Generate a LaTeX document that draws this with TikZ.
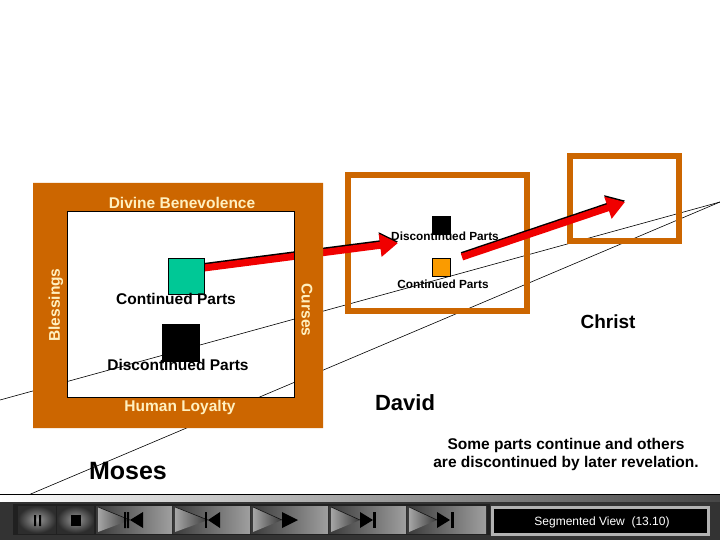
\documentclass[tikz,border=0pt]{standalone}
\usepackage{fontspec}
\setmainfont{Liberation Sans}
\usetikzlibrary{arrows.meta}
\definecolor{frameorange}{RGB}{204,102,0}
\definecolor{labelcream}{RGB}{255,240,192}
\definecolor{partgreen}{RGB}{0,200,150}
\definecolor{partorange}{RGB}{250,155,0}
\definecolor{arrowred}{RGB}{240,0,0}
\newcommand{\fsz}[1]{\fontsize{#1bp}{1.2\dimexpr#1bp\relax}\selectfont}

\begin{document}
\begin{tikzpicture}[x=1bp,y=-1bp,
  frametxt/.style={inner sep=0pt,text=labelcream,font=\fsz{15.5}\bfseries},
  parttxt/.style={inner sep=0pt,font=\fsz{15.5}\bfseries},
  smalltxt/.style={inner sep=0pt,font=\fsz{11.8}\bfseries},
  nametxt/.style={inner sep=0pt,font=\fsz{#1}\bfseries},
  partbox/.style={draw=black,line width=0.6bp,minimum size=#1,inner sep=0pt},
  eraframe/.style={draw=frameorange,line width=6bp},
  timeline/.style={black,line width=0.6bp},
  revarrow/.style={line width=7bp,-{Triangle[length=18bp,width=22bp]}}]
  \useasboundingbox (0,0) rectangle (720,540);
  \fill[white] (0,0) rectangle (720,540);

  % perspective lines
  \coordinate (l1a) at (0,400);
  \coordinate (l2a) at (26,496);
  \coordinate (vp) at (720,202);
  \draw[timeline] (l1a) -- (vp);
  \draw[timeline] (l2a) -- (vp);

  % David and Christ
  \draw[eraframe] (348,175) rectangle (527,311);
  \draw[eraframe] (570,156) rectangle (679,241);
  \node[partbox=18bp,fill=black] (dblk) at (441.5,225) {};
  \node[partbox=18bp,fill=partorange] (dorg) at (441.5,267.5) {};
  \node[smalltxt] (ddis) at (445,236) {Discontinued Parts};
  \node[smalltxt] (dcon) at (443,284) {Continued Parts};

  % arrows
  \node[partbox=36bp,fill=partgreen] (mgrn) at (186,276) {};
  \coordinate (st1) at (204,268);
  \coordinate (tip1) at (398,243);
  \coordinate (st2) at (462,257);
  \coordinate (tip2) at (625,202);
  \draw[revarrow,black] ([yshift=1.5bp]st1) -- ([yshift=1.5bp]tip1);
  \draw[revarrow,arrowred] (st1) -- (tip1);
  \draw[revarrow,black] ([yshift=1.5bp]st2) -- ([yshift=1.5bp]tip2);
  \draw[revarrow,arrowred] (st2) -- (tip2);

  % Moses
  \fill[frameorange,even odd rule] (33,183) rectangle (323,428) (67,211) rectangle (294,397);
  \draw[black,line width=0.6bp] (67,211) rectangle (294,397);
  \node[frametxt] (ben) at (182,203) {Divine Benevolence};
  \node[frametxt] (loy) at (180,407) {Human Loyalty};
  \node[frametxt,rotate=90] (bls) at (56,305) {Blessings};
  \node[frametxt,rotate=-90] (crs) at (307,310) {Curses};
  \node[partbox=36bp,fill=partgreen] at (mgrn) {};
  \node[partbox=37bp,fill=black] (mblk) at (180.5,342.5) {};
  \node[parttxt] (mcon) at (176,299) {Continued Parts};
  \node[parttxt] (mdis) at (178,365) {Discontinued Parts};

  % names
  \node[nametxt=25] (moses) at (128,471) {Moses};
  \node[nametxt=22] (david) at (405,403) {David};
  \node[nametxt=19] (christ) at (608,322) {Christ};
  \node[parttxt,align=center,font=\fsz{15.5}\bfseries] (note) at (566,454.5)
    {Some parts continue and others\\are discontinued by later revelation.};

  % player bar
  \fill[gray!40!black] (0,501) rectangle (720,540);
  \shade[left color=white,right color=gray!55!black] (0,494) rectangle (720,501);
  \draw[black,line width=0.8bp] (0,494) -- (720,494);
  \fill[gray!25!black] (13,504) rectangle (490,535);
  \shade[inner color=gray!80,outer color=gray!35!black] (18,506) rectangle (56,533);
  \shade[inner color=gray!80,outer color=gray!35!black] (57,506) rectangle (94,533);
  \foreach \xa/\xb/\xt in {96/172/130,173/250/208,251/328/282,329/406/360,407/486/437}{
    \shade[left color=gray!45!black,right color=gray!75] (\xa,506) rectangle (\xb,533);
    \shade[left color=gray!70,right color=gray!45!black] (\xa+2,507) -- (\xt,520) -- (\xa+2,532) -- cycle;
    \draw[gray!15!black,line width=0.6bp] (\xa+2,507) -- (\xt,520);
  }
  \fill[black] (34,515) rectangle (36,526) (39,515) rectangle (41,526);
  \fill[black] (71,515) rectangle (81,526);
  \fill[black] (124,512) rectangle (126,528) (127,512) rectangle (129,528);
  \fill[black] (130,520) -- (143,512) -- (143,528) -- cycle;
  \fill[black] (205,512) rectangle (207,528);
  \fill[black] (208,520) -- (220,512) -- (220,528) -- cycle;
  \fill[black] (282,512) -- (298,520) -- (282,528) -- cycle;
  \fill[black] (360,512) -- (373,520) -- (360,528) -- cycle;
  \fill[black] (373,512) rectangle (376,528);
  \fill[black] (437,512) -- (450,520) -- (437,528) -- cycle;
  \fill[black] (451,512) rectangle (454,528);
  \fill[gray!60] (491,506) rectangle (710,536);
  \fill[black] (494,509) rectangle (707,533);
  \node[inner sep=0pt,text=white,font=\fsz{12}] (seg) at (602,522) {Segmented View\ \ (13.10)};
\end{tikzpicture}
\end{document}
